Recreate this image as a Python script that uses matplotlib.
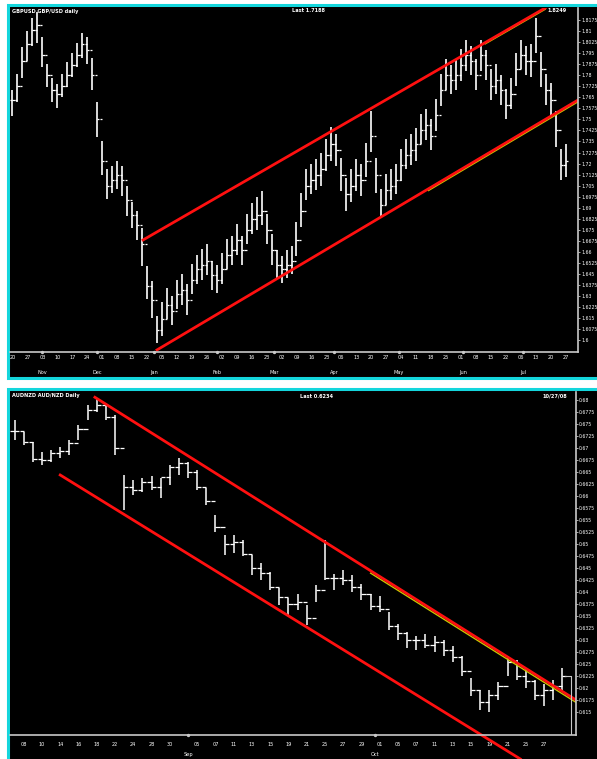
import matplotlib
matplotlib.use("Agg")
import matplotlib.pyplot as plt
import matplotlib.transforms as mtransforms
from matplotlib.patches import Rectangle
import numpy as np

W, H = 597, 759

# ---- top panel: GBP/USD daily ----
top_high = [1.770, 1.781, 1.799, 1.810, 1.819, 1.823, 1.806, 1.788, 1.778, 1.774,
            1.781, 1.789, 1.795, 1.802, 1.809, 1.806, 1.792, 1.762, 1.735, 1.716,
            1.718, 1.722, 1.718, 1.705, 1.694, 1.688, 1.676, 1.650, 1.640, 1.616,
            1.626, 1.635, 1.630, 1.641, 1.645, 1.638, 1.652, 1.658, 1.662, 1.665,
            1.654, 1.651, 1.659, 1.669, 1.671, 1.679, 1.671, 1.686, 1.693, 1.697,
            1.701, 1.686, 1.672, 1.661, 1.657, 1.661, 1.664, 1.680, 1.700, 1.716,
            1.720, 1.723, 1.727, 1.737, 1.745, 1.740, 1.724, 1.710, 1.716, 1.723,
            1.720, 1.734, 1.756, 1.724, 1.703, 1.713, 1.716, 1.720, 1.730, 1.737,
            1.740, 1.744, 1.754, 1.757, 1.750, 1.764, 1.781, 1.791, 1.787, 1.791,
            1.798, 1.804, 1.800, 1.791, 1.804, 1.797, 1.784, 1.788, 1.780, 1.771,
            1.778, 1.795, 1.804, 1.800, 1.801, 1.819, 1.796, 1.781, 1.775, 1.756,
            1.730, 1.733]
top_low = [1.752, 1.762, 1.778, 1.790, 1.800, 1.802, 1.786, 1.772, 1.762, 1.758,
           1.765, 1.772, 1.779, 1.786, 1.792, 1.788, 1.770, 1.738, 1.712, 1.696,
           1.700, 1.703, 1.698, 1.684, 1.676, 1.668, 1.650, 1.628, 1.615, 1.598,
           1.603, 1.614, 1.610, 1.621, 1.624, 1.617, 1.631, 1.638, 1.641, 1.644,
           1.634, 1.632, 1.638, 1.648, 1.651, 1.658, 1.651, 1.665, 1.672, 1.675,
           1.678, 1.665, 1.651, 1.642, 1.639, 1.642, 1.645, 1.657, 1.677, 1.695,
           1.699, 1.702, 1.705, 1.715, 1.722, 1.718, 1.701, 1.688, 1.694, 1.701,
           1.698, 1.711, 1.728, 1.700, 1.684, 1.692, 1.695, 1.699, 1.708, 1.716,
           1.719, 1.722, 1.733, 1.736, 1.729, 1.742, 1.759, 1.770, 1.767, 1.770,
           1.776, 1.783, 1.780, 1.770, 1.783, 1.777, 1.763, 1.767, 1.760, 1.750,
           1.757, 1.773, 1.784, 1.780, 1.779, 1.795, 1.772, 1.760, 1.752, 1.731,
           1.709, 1.711]
top_close = [1.763, 1.773, 1.790, 1.801, 1.811, 1.814, 1.794, 1.780, 1.770, 1.767,
             1.773, 1.780, 1.787, 1.794, 1.801, 1.797, 1.780, 1.750, 1.722, 1.705,
             1.709, 1.712, 1.709, 1.695, 1.685, 1.678, 1.665, 1.637, 1.627, 1.607,
             1.614, 1.624, 1.620, 1.631, 1.634, 1.627, 1.641, 1.648, 1.651, 1.654,
             1.644, 1.641, 1.648, 1.658, 1.661, 1.668, 1.661, 1.675, 1.682, 1.685,
             1.688, 1.675, 1.661, 1.651, 1.648, 1.651, 1.654, 1.668, 1.688, 1.705,
             1.709, 1.712, 1.716, 1.726, 1.733, 1.729, 1.712, 1.699, 1.705, 1.712,
             1.709, 1.722, 1.739, 1.712, 1.692, 1.702, 1.705, 1.709, 1.719, 1.726,
             1.729, 1.733, 1.743, 1.746, 1.739, 1.753, 1.770, 1.780, 1.777, 1.780,
             1.787, 1.794, 1.790, 1.780, 1.794, 1.787, 1.773, 1.777, 1.770, 1.760,
             1.767, 1.784, 1.794, 1.790, 1.790, 1.807, 1.784, 1.770, 1.763, 1.743,
             1.719, 1.722]
top_days = ["20", "27", "03", "10", "17", "24", "01", "08", "15", "22",
            "05", "12", "19", "26", "02", "09", "16", "23", "02", "09",
            "16", "23", "06", "13", "20", "27", "04", "11", "18", "25",
            "01", "08", "15", "22", "06", "13", "20", "27"]
top_months = ["Nov", "Dec", "Jan", "Feb", "Mar", "Apr", "May", "Jun", "Jul"]
top_month_pos = [6, 17, 28.5, 41, 52.5, 64.5, 77.5, 90.5, 102.5]
top_yticks = [1.6, 1.6075, 1.615, 1.6225, 1.63, 1.6375, 1.645, 1.6525, 1.66, 1.6675,
              1.675, 1.6825, 1.69, 1.6975, 1.705, 1.7125, 1.72, 1.7275, 1.735, 1.7425,
              1.75, 1.7575, 1.765, 1.7725, 1.78, 1.7875, 1.795, 1.8025, 1.81, 1.8175]
# channel lines (bar index, price)
top_upper = [(26.2, 1.668), (106.9, 1.8258)]
top_lower = [(29.0, 1.5932), (113.5, 1.7632)]

# ---- bottom panel: AUD/NZD daily ----
bot_high = [0.6758, 0.6733, 0.6712, 0.6692, 0.6696, 0.6702, 0.6717, 0.6748, 0.6790, 0.6804,
            0.6792, 0.6769, 0.6644, 0.6633, 0.6637, 0.6642, 0.6637, 0.6665, 0.6679, 0.6671,
            0.6654, 0.6617, 0.6560, 0.6519, 0.6519, 0.6508, 0.6477, 0.6460, 0.6442, 0.6408,
            0.6388, 0.6396, 0.6373, 0.6415, 0.6508, 0.6437, 0.6446, 0.6435, 0.6417, 0.6396,
            0.6392, 0.6358, 0.6333, 0.6317, 0.6308, 0.6312, 0.6308, 0.6300, 0.6288, 0.6267,
            0.6221, 0.6196, 0.6196, 0.6213, 0.6267, 0.6258, 0.6242, 0.6217, 0.6208, 0.6217,
            0.6242]
bot_low = [0.6717, 0.6706, 0.6671, 0.6665, 0.6671, 0.6679, 0.6685, 0.6717, 0.6758, 0.6775,
           0.6758, 0.6685, 0.6571, 0.6602, 0.6608, 0.6612, 0.6596, 0.6623, 0.6644, 0.6637,
           0.6612, 0.6581, 0.6525, 0.6477, 0.6481, 0.6475, 0.6435, 0.6425, 0.6404, 0.6373,
           0.6352, 0.6362, 0.6331, 0.6379, 0.6425, 0.6404, 0.6415, 0.6400, 0.6383, 0.6362,
           0.6358, 0.6321, 0.6300, 0.6283, 0.6279, 0.6283, 0.6275, 0.6267, 0.6254, 0.6225,
           0.6183, 0.6154, 0.6150, 0.6175, 0.6225, 0.6217, 0.6200, 0.6175, 0.6163, 0.6175,
           0.6196]
bot_close = [0.6735, 0.6712, 0.6678, 0.6675, 0.6690, 0.6695, 0.6710, 0.6740, 0.6780, 0.6790,
             0.6765, 0.6700, 0.6620, 0.6612, 0.6630, 0.6620, 0.6640, 0.6660, 0.6670, 0.6650,
             0.6620, 0.6590, 0.6535, 0.6500, 0.6505, 0.6480, 0.6450, 0.6440, 0.6410, 0.6390,
             0.6375, 0.6380, 0.6345, 0.6405, 0.6430, 0.6430, 0.6425, 0.6410, 0.6395, 0.6370,
             0.6365, 0.6330, 0.6315, 0.6300, 0.6300, 0.6290, 0.6295, 0.6280, 0.6265, 0.6235,
             0.6195, 0.6170, 0.6185, 0.6205, 0.6255, 0.6225, 0.6215, 0.6185, 0.6195, 0.6205,
             0.6225]
bot_days = ["08", "10", "14", "16", "18", "22", "24", "28", "30",
            "05", "07", "11", "13", "15", "19", "21", "25", "27", "29",
            "01", "05", "07", "11", "13", "15", "19", "21", "25", "27"]
bot_day_pos = [1, 3, 5, 7, 9, 11, 13, 15, 17,
               20, 22, 24, 26, 28, 30, 32, 34, 36, 38,
               40, 42, 44, 46, 48, 50, 52, 54, 56, 58]
bot_months = ["Sep", "Oct"]
bot_month_pos = [19, 39.5]
bot_yticks = [0.615, 0.6175, 0.62, 0.6225, 0.625, 0.6275, 0.63, 0.6325, 0.635,
              0.6375, 0.64, 0.6425, 0.645, 0.6475, 0.65, 0.6525, 0.655, 0.6575,
              0.66, 0.6625, 0.665, 0.6675, 0.67, 0.6725, 0.675, 0.6775, 0.68]
bot_upper = [(8.8, 0.6806), (61.5, 0.6175)]
bot_lower = [(5.0, 0.6644), (55.4, 0.6052)]

GRAY = "#c8c8c8"
CYAN = "#14d6dc"
FS = 3.6
YFS = 3.3


def px(x, y):
    return x / W, 1 - y / H


def draw_ohlc(ax, high, low, close, tick=0.45, lw=1.2):
    close = np.array(close)
    x = np.arange(len(close))
    opens = np.r_[close[0], close[:-1]]
    ax.vlines(x, low, high, color="white", lw=lw)
    ax.hlines(opens, x - tick, x, color="white", lw=0.9)
    ax.hlines(close, x, x + tick, color="white", lw=0.9)


def style_axes(ax, yticks, days, day_pos, months, month_pos, xpad, month_off):
    ax.set_facecolor("black")
    for s in ["top", "left"]:
        ax.spines[s].set_visible(False)
    for s in ["right", "bottom"]:
        ax.spines[s].set_color(GRAY)
        ax.spines[s].set_linewidth(1.2)
    ax.yaxis.tick_right()
    ax.set_yticks(yticks)
    ax.set_yticklabels([f"{v:.4f}".rstrip("0") for v in yticks])
    ax.tick_params(axis="y", color=GRAY, labelcolor="white", labelsize=YFS,
                   length=1.6, width=0.6, pad=0.6)
    ax.set_xticks(day_pos)
    ax.set_xticklabels(days)
    ax.tick_params(axis="x", labelcolor="white", labelsize=FS, length=0, pad=xpad)
    trans = mtransforms.blended_transform_factory(ax.transData, ax.transAxes)
    ax.plot(month_pos, [0] * len(month_pos), "o", ms=1.4, color=GRAY,
            transform=trans, clip_on=False)
    for m, p in zip(months, month_pos):
        ax.text(p, month_off, m, color="white", fontsize=FS, ha="center",
                va="center", transform=trans, clip_on=False)


fig = plt.figure(figsize=(W / 100, H / 100), dpi=100, facecolor="white")

# cyan framed panels
for (x0, y0, x1, y1) in [(8, 5, 600, 378), (8, 389, 600, 765)]:
    fig.add_artist(Rectangle(px(x0, y1), (x1 - x0) / W, (y1 - y0) / H,
                             transform=fig.transFigure, facecolor="black",
                             edgecolor=CYAN, lw=2.2, zorder=-1))

# top chart
ax1 = fig.add_axes([10 / W, 1 - 352 / H, 568 / W, 344 / H])
draw_ohlc(ax1, top_high, top_low, top_close)
ax1.set_xlim(-0.5, 113.5)
ax1.set_ylim(1.5918, 1.8258)
style_axes(ax1, top_yticks, top_days, list(range(0, 112, 3)),
           top_months, top_month_pos, 2.5, -0.06)
(ux0, uy0), (ux1, uy1) = top_upper
(lx0, ly0), (lx1, ly1) = top_lower
ax1.plot([ux1 - 12, ux1], [uy1 - 12 * (uy1 - uy0) / (ux1 - ux0) - 0.0009, uy1 - 0.0009],
         color="#c8c800", lw=1.0)
ax1.plot([lx1 - 30, lx1], [ly1 - 30 * (ly1 - ly0) / (lx1 - lx0) - 0.0012, ly1 - 0.0012],
         color="#c8c800", lw=1.0)
ax1.plot([ux0, ux1], [uy0, uy1], color="#ff1010", lw=2.0)
ax1.plot([lx0, lx1], [ly0, ly1], color="#ff1010", lw=2.0)

# bottom chart
ax2 = fig.add_axes([10 / W, 1 - 735 / H, 566 / W, 343 / H])
draw_ohlc(ax2, bot_high, bot_low, bot_close, tick=0.45, lw=1.1)
ax2.set_xlim(-0.5, 61.5)
ax2.set_ylim(0.6102, 0.6817)
style_axes(ax2, bot_yticks, bot_days, bot_day_pos,
           bot_months, bot_month_pos, 5, -0.058)
(ux0, uy0), (ux1, uy1) = bot_upper
(lx0, ly0), (lx1, ly1) = bot_lower
slope = (uy1 - uy0) / (ux1 - ux0)
ax2.plot([39, ux1], [uy0 + (39 - ux0) * slope - 0.0005, uy1 - 0.0005],
         color="#c8c800", lw=1.0)
ax2.plot([ux0, ux1], [uy0, uy1], color="#ff1010", lw=2.0)
ax2.plot([lx0, lx1], [ly0, ly1], color="#ff1010", lw=2.0, clip_on=False)
# last price marker
n = len(bot_close)
ax2.plot([n - 1 + 0.3, n - 1 + 0.95, n - 1 + 0.95],
         [bot_close[-1], bot_close[-1], 0.6102], color=GRAY, lw=0.8)

# header texts
txt = dict(color="white", fontsize=FS, va="center", fontweight="bold")
fig.text(*px(12, 11), "GBPUSD GBP/USD daily", ha="left", **txt)
fig.text(*px(292, 11), "Last 1.7188", ha="left", **txt)
fig.text(*px(547, 11), "1.8249", ha="left", **txt)
fig.text(*px(12, 396), "AUDNZD AUD/NZD Daily", ha="left", **txt)
fig.text(*px(300, 396), "Last 0.6234", ha="left", **txt)
fig.text(*px(542, 396), "10/27/08", ha="left", **txt)

fig.savefig("out.png", dpi=100, facecolor="white")
